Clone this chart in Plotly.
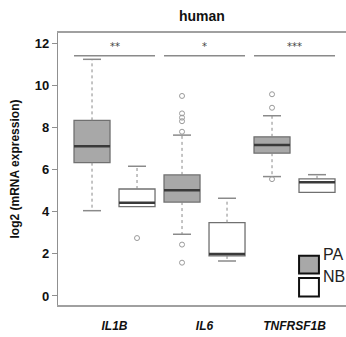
import plotly.graph_objects as go

genes = ["IL1B", "IL6", "TNFRSF1B"]
stars = ["**", "*", "***"]

# PA statistics (per gene)
pa_lower = [4.05, 2.93, 5.67]
pa_q1 = [6.33, 4.46, 6.78]
pa_median = [7.11, 5.02, 7.17]
pa_q3 = [8.34, 5.75, 7.56]
pa_upper = [11.24, 7.64, 8.56]
pa_outliers = [[], [9.5, 8.67, 8.47, 8.3, 7.8, 2.44, 1.58], [9.58, 8.94, 5.55]]

# NB statistics (per gene)
nb_lower = [4.24, 1.66, 4.92]
nb_q1 = [4.24, 1.90, 4.92]
nb_median = [4.43, 1.99, 5.40]
nb_q3 = [5.08, 3.48, 5.56]
nb_upper = [6.16, 4.64, 5.76]
nb_outliers = [[2.75], [], []]

sig_level = 11.41
star_level = 11.85

BOX_W = 0.8
CAP_W = 0.4
pa_pos = [2 * i + 1 for i in range(len(genes))]
nb_pos = [2 * i + 2 for i in range(len(genes))]
centers = [(a + b) / 2 for a, b in zip(pa_pos, nb_pos)]

fig = go.Figure()

def add_group(pos, q1, med, q3, lo, up, outl, fill):
    fig.add_trace(go.Box(
        x=pos, q1=q1, median=med, q3=q3, lowerfence=q1, upperfence=q3,
        width=BOX_W, fillcolor=fill, line=dict(color="#707070", width=1.3),
        boxpoints=False, showlegend=False, hoverinfo="skip"))
    wx, wy, cx, cy, mx, my = [], [], [], [], [], []
    for p, a, m, b, l, u in zip(pos, q1, med, q3, lo, up):
        if u > b:
            wx += [p, p, None]; wy += [b, u, None]
            cx += [p - CAP_W / 2, p + CAP_W / 2, None]; cy += [u, u, None]
        if l < a:
            wx += [p, p, None]; wy += [a, l, None]
            cx += [p - CAP_W / 2, p + CAP_W / 2, None]; cy += [l, l, None]
        mx += [p - BOX_W / 2, p + BOX_W / 2, None]; my += [m, m, None]
    fig.add_trace(go.Scatter(x=wx, y=wy, mode="lines", showlegend=False,
                             line=dict(color="#8a8a8a", width=1, dash="dot"), hoverinfo="skip"))
    fig.add_trace(go.Scatter(x=cx, y=cy, mode="lines", showlegend=False,
                             line=dict(color="#8a8a8a", width=1.5), hoverinfo="skip"))
    fig.add_trace(go.Scatter(x=mx, y=my, mode="lines", showlegend=False,
                             line=dict(color="#3a3a3a", width=2.5), hoverinfo="skip"))
    ox, oy = [], []
    for p, vals in zip(pos, outl):
        for v in vals:
            ox.append(p); oy.append(v)
    fig.add_trace(go.Scatter(x=ox, y=oy, mode="markers", showlegend=False,
                             marker=dict(symbol="circle-open", size=5, color="#9a9a9a", line=dict(width=1)),
                             hoverinfo="skip"))

add_group(pa_pos, pa_q1, pa_median, pa_q3, pa_lower, pa_upper, pa_outliers, "#a8a8a8")
add_group(nb_pos, nb_q1, nb_median, nb_q3, nb_lower, nb_upper, nb_outliers, "#ffffff")

# significance bars
sx, sy = [], []
for a, b in zip(pa_pos, nb_pos):
    sx += [a - BOX_W / 2, b + BOX_W / 2, None]; sy += [sig_level, sig_level, None]
fig.add_trace(go.Scatter(x=sx, y=sy, mode="lines", showlegend=False,
                         line=dict(color="#8a8a8a", width=1.5), hoverinfo="skip"))
for c, s in zip(centers, stars):
    fig.add_annotation(x=c, y=star_level, text=s, showarrow=False,
                       font=dict(size=10, color="#444", family="DejaVu Sans"))

# title
fig.add_annotation(xref="paper", yref="paper", x=0.5, y=1.0, yshift=27, text="<b>human</b>",
                   showarrow=False, font=dict(size=14, color="#111", family="Liberation Sans"))

# legend
for y0, y1, fill, lab in [(0.116, 0.181, "#a8a8a8", "PA"), (0.031, 0.099, "#ffffff", "NB")]:
    fig.add_shape(type="rect", xref="paper", yref="paper", x0=0.837, x1=0.906, y0=y0, y1=y1,
                  fillcolor=fill, line=dict(color="#111", width=2))
    fig.add_annotation(xref="paper", yref="paper", x=0.912, y=(y0 + y1) / 2, text=lab,
                       xanchor="left", showarrow=False,
                       font=dict(size=16, color="#222", family="Liberation Sans"))

fig.update_layout(
    width=346, height=337, margin=dict(l=58, r=0, t=33, b=32),
    plot_bgcolor="white", paper_bgcolor="white",
    font=dict(family="Liberation Sans", color="#111"),
    xaxis=dict(range=[0.244, 6.644], tickvals=centers,
               ticktext=[f"<b><i>{g}</i></b>" for g in genes],
               tickfont=dict(size=12, color="#111"), ticks="", ticklabelstandoff=9,
               showline=True, mirror=True, linecolor="#a0a0a0", linewidth=1.5,
               showgrid=False, zeroline=False),
    yaxis=dict(range=[-0.43, 12.49], tickvals=[0, 2, 4, 6, 8, 10, 12],
               ticktext=[f"<b>{v}</b>" for v in [0, 2, 4, 6, 8, 10, 12]],
               tickfont=dict(size=13, color="#111"), ticks="outside", ticklen=5,
               tickcolor="#909090", showline=True, linecolor="#909090", linewidth=1.2,
               showgrid=False, zeroline=False,
               title=dict(text="<b>log2 (mRNA expression)</b>", font=dict(size=12, color="#111"),
                          standoff=12)),
)

fig.write_html("out.html")
